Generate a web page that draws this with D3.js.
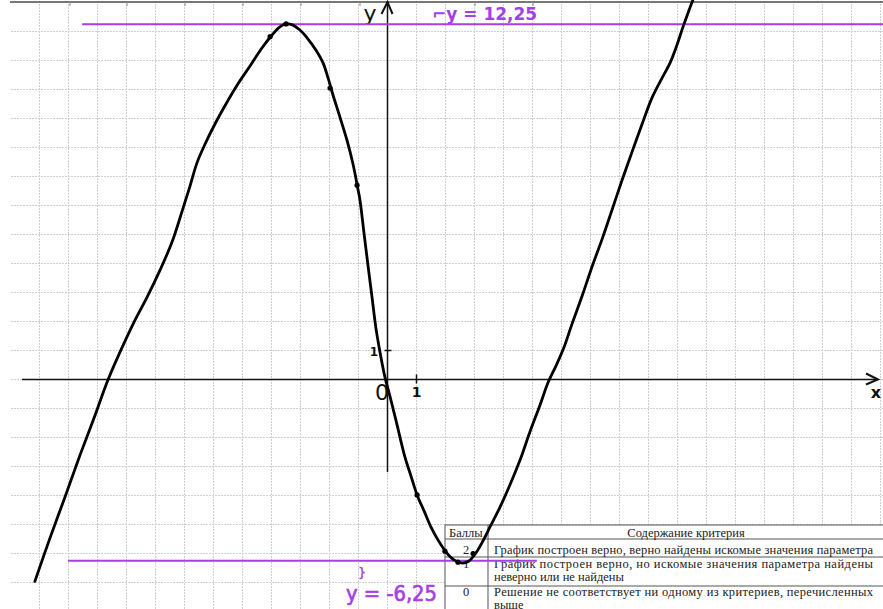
<!DOCTYPE html>
<html>
<head>
<meta charset="utf-8">
<script src="https://cdn.jsdelivr.net/npm/d3@7"></script>
<style>
  html, body { margin: 0; padding: 0; background: #fff; }
  svg { display: block; }
</style>
</head>
<body>
<svg id="chart" width="883" height="609"></svg>
<script>
// ---------- data ----------
const curveX = [-12.16, -11.64, -11.12, -10.60, -10.12, -9.64, -9.19, -8.74, -8.29, -7.84, -7.43, -7.09,
  -6.81, -6.57, -6.29, -5.95, -5.57, -5.16, -4.74, -4.33, -3.98, -3.71, -3.50, -3.26, -3.02, -2.74,
  -2.47, -2.22, -2.05, -1.88, -1.64, -1.40, -1.19, -1.02, -0.95, -0.81, -0.67, -0.53, -0.40, -0.26,
  -0.09, 0.09, 0.29, 0.60, 0.81, 1.02, 1.26, 1.50, 1.74, 2.02, 2.29, 2.57, 2.81, 3.05, 3.29, 3.53,
  3.88, 4.22, 4.57, 4.91, 5.26, 5.53, 5.81, 6.09, 6.36, 6.71, 7.05, 7.40, 7.74, 8.09, 8.43, 8.78,
  9.12, 9.47, 9.74, 9.98, 10.19, 10.40, 10.53];
const curveY = [-6.96, -5.47, -4.05, -2.60, -1.33, -0.02, 1.02, 1.98, 2.84, 3.78, 4.74, 5.78,
  6.67, 7.47, 8.12, 8.81, 9.50, 10.19, 10.81, 11.43, 11.88, 12.16, 12.26, 12.22, 12.05, 11.74,
  11.36, 10.91, 10.40, 9.81, 9.05, 8.26, 7.43, 6.57, 6.19, 5.05, 3.91, 2.81, 1.78, 0.95,
  0.09, -0.60, -1.40, -2.67, -3.33, -3.98, -4.53, -5.09, -5.53, -5.95, -6.22, -6.33, -6.26, -5.98, -5.57, -5.09,
  -4.40, -3.64, -2.78, -1.81, -0.88, -0.12, 0.47, 1.12, 1.91, 2.88, 3.88, 4.84, 5.84, 6.88, 7.84, 8.81,
  9.71, 10.40, 10.91, 11.53, 12.16, 12.74, 13.09];

const dotX = [-4.05, -3.50, -1.98, -1.05, 1.02, 1.98, 2.43, 2.95];
const dotY = [11.82, 12.26, 10.05, 6.70, -3.98, -5.92, -6.30, -6.00];

const levelValues = [12.25, -6.25];
const levelFrom   = [-10.53, -11.02];
const levelTo     = [17.2, 5.15];
const levelLabels = ["⌐y = 12,25", "y = -6,25"];

const tickLabels = ["1", "1", "0"];
const axisNames = ["x", "y"];

const tableHeader = ["Баллы", "Содержание критерия"];
const tableScores = ["2", "1", "0"];
const tableLines = [
  ["График построен верно, верно найдены искомые значения параметра"],
  ["График построен верно, но искомые значения параметра найдены", "неверно или не найдены"],
  ["Решение не соответствует ни одному из критериев, перечисленных", "выше"]
];

// ---------- scales ----------
const W = 883, H = 609;
const x = d3.scaleLinear().domain([-13, 17]).range([10.5, 880.5]);
const y = d3.scaleLinear().domain([-8, 13]).range([611.5, 2.5]);

const svg = d3.select("#chart");
svg.append("rect").attr("width", W).attr("height", H).attr("fill", "#fff");

// ---------- grid paper ----------
const grid = svg.append("g").attr("stroke", "#cfcfcf").attr("stroke-width", 1)
  .attr("stroke-dasharray", "2,1");
grid.selectAll("line.v").data(d3.range(-12, 18)).join("line")
  .attr("x1", d => x(d)).attr("x2", d => x(d)).attr("y1", 4).attr("y2", H);
grid.selectAll("line.h").data(d3.range(-7, 14)).join("line")
  .attr("x1", 11).attr("x2", W).attr("y1", d => y(d)).attr("y2", d => y(d));

// top remnant border
svg.append("line").attr("x1", 10).attr("x2", W).attr("y1", 2).attr("y2", 2)
  .attr("stroke", "#777").attr("stroke-width", 2.2);
svg.selectAll("line.ttick").data([70, 127, 185, 243, 301, 360, 475, 533]).join("line")
  .attr("x1", d => d).attr("x2", d => d).attr("y1", 2).attr("y2", 6)
  .attr("stroke", "#888").attr("stroke-width", 1);

// ---------- table ----------
const tb = svg.append("g");
tb.append("rect").attr("x", 445).attr("y", 525).attr("width", W - 445 + 5).attr("height", H - 525 + 5)
  .attr("fill", "#fff").attr("stroke", "#555").attr("stroke-width", 1);
[539, 557, 586].forEach(yy => tb.append("line").attr("x1", 445).attr("x2", W).attr("y1", yy).attr("y2", yy)
  .attr("stroke", "#555").attr("stroke-width", 1));
tb.append("line").attr("x1", 488).attr("x2", 488).attr("y1", 525).attr("y2", H).attr("stroke", "#555");
const serif = "'Liberation Serif', 'Times New Roman', serif";
const FS = 12.5;
tb.append("text").attr("x", 449).attr("y", 537).text(tableHeader[0])
  .attr("font-family", serif).attr("font-size", FS).attr("fill", "#222");
tb.append("text").attr("x", 686).attr("y", 537).attr("text-anchor", "middle").text(tableHeader[1])
  .attr("font-family", serif).attr("font-size", FS).attr("fill", "#222");
const rowBase = [[554], [568, 581], [596, 609]];
tableScores.forEach((s, i) => {
  tb.append("text").attr("x", 466).attr("y", rowBase[i][0]).attr("text-anchor", "middle").text(s)
    .attr("font-family", serif).attr("font-size", FS).attr("fill", "#222");
  tableLines[i].forEach((t, j) => {
    const tx = tb.append("text").attr("x", 494).attr("y", rowBase[i][j]).text(t)
      .attr("font-family", serif).attr("font-size", FS).attr("fill", "#222");
    if (j === 0) tx.attr("textLength", 379).attr("lengthAdjust", "spacing");
  });
});

// ---------- axes ----------
const ax = svg.append("g").attr("stroke", "#111").attr("stroke-width", 1.5).attr("fill", "none");
ax.append("line").attr("x1", 22).attr("x2", 878).attr("y1", y(0)).attr("y2", y(0));
ax.append("path").attr("d", `M866,${y(0) - 6} L878,${y(0)} L866,${y(0) + 5}`).attr("stroke-width", 2);
ax.append("line").attr("x1", x(0)).attr("x2", x(0)).attr("y1", 472).attr("y2", 1);
ax.append("path").attr("d", `M${x(0) - 6},14 L${x(0)},2 L${x(0) + 5},14`).attr("stroke-width", 2);
// unit ticks
ax.append("line").attr("x1", x(0) - 3).attr("x2", x(0) + 4).attr("y1", y(1)).attr("y2", y(1));
ax.append("line").attr("x1", x(1)).attr("x2", x(1)).attr("y1", y(0) - 5).attr("y2", y(0) + 4);

const hand = "'DejaVu Sans', sans-serif";
svg.append("text").attr("x", x(1)).attr("y", 397).attr("text-anchor", "middle").text(tickLabels[0])
  .attr("font-family", hand).attr("font-size", 14).attr("font-weight", "bold").attr("fill", "#111");
svg.append("text").attr("x", 374).attr("y", 356).attr("text-anchor", "middle").text(tickLabels[1])
  .attr("font-family", hand).attr("font-size", 12).attr("font-weight", "bold").attr("fill", "#111");
svg.append("text").attr("x", 382).attr("y", 400).attr("text-anchor", "middle").text(tickLabels[2])
  .attr("font-family", hand).attr("font-size", 22).attr("fill", "#111");
svg.append("text").attr("x", 876).attr("y", 398).attr("text-anchor", "middle").text(axisNames[0])
  .attr("font-family", hand).attr("font-size", 16).attr("font-weight", "bold").attr("fill", "#111");
svg.append("text").attr("x", 370).attr("y", 21).attr("text-anchor", "middle").text(axisNames[1])
  .attr("font-family", hand).attr("font-size", 22).attr("fill", "#111");

// ---------- level lines ----------
const purple = "#a63ee6";
levelValues.forEach((v, i) => {
  svg.append("line").attr("x1", x(levelFrom[i])).attr("x2", x(levelTo[i]))
    .attr("y1", y(v)).attr("y2", y(v)).attr("stroke", purple).attr("stroke-width", 2);
});
svg.append("text").attr("x", 432).attr("y", 20).text(levelLabels[0])
  .attr("font-family", hand).attr("font-size", 17).attr("font-weight", "bold").attr("fill", purple);
svg.append("text").attr("x", 346).attr("y", 601).attr("textLength", 91).attr("lengthAdjust", "spacingAndGlyphs")
  .text(levelLabels[1])
  .attr("font-family", hand).attr("font-size", 21).attr("fill", purple).attr("stroke", purple).attr("stroke-width", 0.7);
svg.append("text").attr("x", 362).attr("y", 577).attr("text-anchor", "middle").text("}")
  .attr("font-family", hand).attr("font-size", 12).attr("fill", purple).attr("stroke", purple).attr("stroke-width", 0.5);

// ---------- the curve ----------
const pts = curveX.map((d, i) => [d, curveY[i]]);
const line = d3.line().x(d => x(d[0])).y(d => y(d[1])).curve(d3.curveCatmullRom.alpha(0.5));
svg.append("path").datum(pts).attr("d", line)
  .attr("fill", "none").attr("stroke", "#000").attr("stroke-width", 2.8)
  .attr("stroke-linecap", "round").attr("stroke-linejoin", "round");

svg.selectAll("circle.dot").data(dotX.map((d, i) => [d, dotY[i]])).join("circle")
  .attr("cx", d => x(d[0])).attr("cy", d => y(d[1])).attr("r", 2.6).attr("fill", "#000");
</script>
</body>
</html>
